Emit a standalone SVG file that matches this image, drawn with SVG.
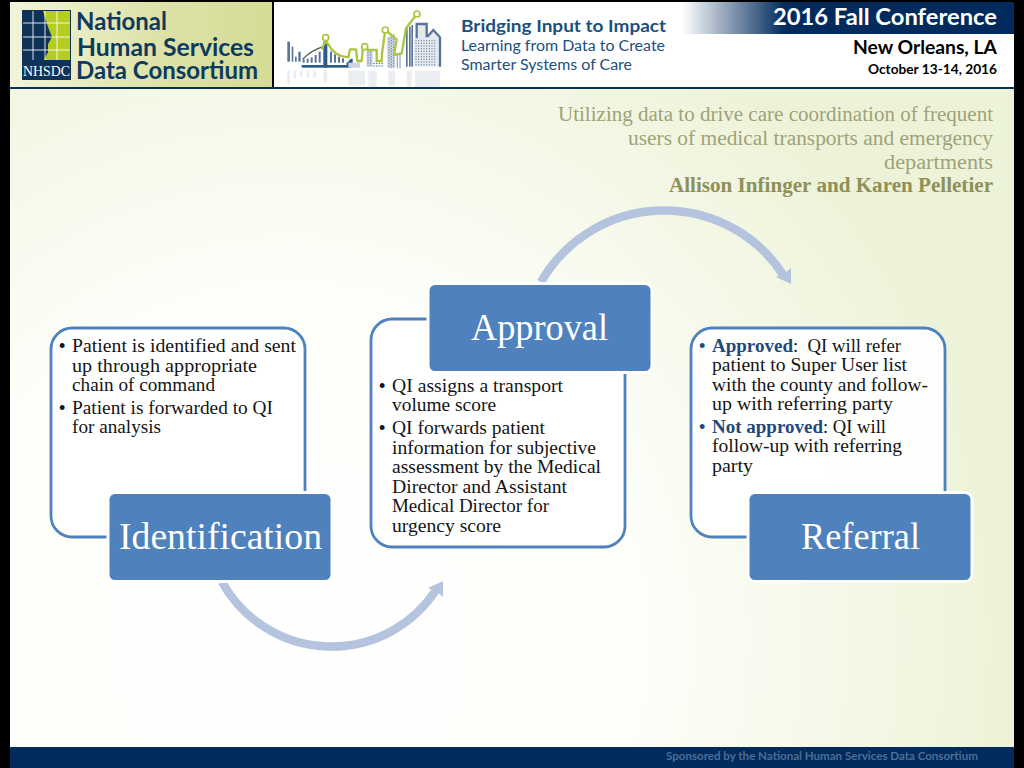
<svg xmlns="http://www.w3.org/2000/svg" width="1024" height="768" viewBox="0 0 1024 768">
<style>
.b{font-family:"Liberation Serif","Times New Roman",serif;font-size:18.5px;fill:#141414;transform:translate(0,1px)}
.blt{font-family:"Liberation Sans",Arial,sans-serif;font-size:18px;fill:#141414;transform:translate(0,1px)}
.bq{fill:#1F497D;font-weight:bold}
.t{font-family:"Liberation Serif","Times New Roman",serif;font-size:37px;fill:#fff;transform:translate(0,1px)}
.h{font-family:"Liberation Serif","Times New Roman",serif;font-size:20px;fill:#A0A278;transform:translate(0,.5px)}
.hd{font-family:Lato,"Open Sans",sans-serif}
.card{fill:#fff;fill-opacity:.92;stroke:#4F81BD;stroke-width:2.8}
.head{fill:#4F81BD;stroke:#fff;stroke-width:3}
.arc{fill:none;stroke:#B4C3DE;stroke-width:8.5}
.hdarrow{fill:#B4C3DE}
.n{fill:#0F3A5E;font-family:Lato,"Open Sans",sans-serif;font-weight:bold;font-size:25px}
.bar{fill:#5A7398}
.nv{fill:#2B5C90}
.pale{fill:#CBD4E0}
.dots{fill:none;stroke:#6F86A6;stroke-width:3;stroke-dasharray:4 4}
.lime{fill:none;stroke:#A9C63C;stroke-width:7;stroke-linejoin:round}
.pt{fill:#fff;stroke:#A9C63C;stroke-width:5}
</style>
<defs>
<radialGradient id="bg" gradientUnits="userSpaceOnUse" cx="290" cy="640" r="720">
<stop offset="0" stop-color="#fff"/><stop offset=".5" stop-color="#FDFEF9"/><stop offset="1" stop-color="#EDF3D8"/>
</radialGradient>
<linearGradient id="logo" x1="0" y1="0" x2="1" y2="0">
<stop offset="0" stop-color="#F1F4DA"/><stop offset=".55" stop-color="#DDE3A8"/><stop offset="1" stop-color="#D5DC96"/>
</linearGradient>
<linearGradient id="ban" gradientUnits="userSpaceOnUse" x1="682" y1="0" x2="785" y2="0">
<stop offset="0" stop-color="#002B5C" stop-opacity="0"/><stop offset="1" stop-color="#002B5C"/>
</linearGradient>
</defs>

<rect width="1024" height="768" fill="#000"/>
<rect x="10" y="2" width="1004" height="745" fill="url(#bg)"/>
<rect x="10" y="747" width="1004" height="21" fill="#002B5C"/>
<text class="hd" x="666" y="760" font-size="11.5" font-weight="bold" fill="#4D6E97" textLength="312" lengthAdjust="spacingAndGlyphs">Sponsored by the National Human Services Data Consortium</text>

<g id="header">
<rect x="10" y="2" width="1004" height="85" fill="#fff"/>
<rect x="10" y="87" width="1004" height="2" fill="#0B2F52"/>
<rect x="10" y="2" width="262" height="85" fill="url(#logo)"/>
<rect x="272" y="2" width="2" height="85" fill="#000"/>

<g id="logo-mark">
<rect x="22" y="10" width="49" height="70" fill="#0F3358"/>
<path d="M43,11H70V60H44L48,52L48,44L52,37L48,27Z" fill="#B5CC22"/>
<path d="M33,11V60M45,11V60M57,11V60M23,23H70M23,37H70M23,50H70" fill="none" stroke="#fff" stroke-width="1" opacity=".85"/>
<rect x="22.500" y="61" width="48" height="18" fill="#0F3358"/>
<text x="23" y="76" textLength="47" lengthAdjust="spacingAndGlyphs" font-family="Liberation Serif,serif" font-size="15" fill="#fff">NHSDC</text>
</g>
<text class="n" x="76" y="30" textLength="91" lengthAdjust="spacingAndGlyphs">National</text>
<text class="n" x="77" y="56" textLength="177" lengthAdjust="spacingAndGlyphs">Human Services</text>
<text class="n" x="76" y="79" textLength="182" lengthAdjust="spacingAndGlyphs">Data Consortium</text>

<g id="skyline" transform="translate(280,0) scale(.33333)">
<g opacity=".12">
<rect class="bar" x="22" y="212" width="8" height="40"/><rect class="bar" x="40" y="212" width="8" height="25"/><rect class="bar" x="60" y="212" width="8" height="20"/><rect class="bar" x="80" y="212" width="8" height="20"/><rect class="bar" x="100" y="212" width="8" height="22"/><rect class="bar" x="130" y="212" width="12" height="35"/><rect class="bar" x="205" y="212" width="50" height="45"/><rect class="bar" x="265" y="212" width="25" height="50"/><rect class="bar" x="325" y="212" width="20" height="45"/><rect class="bar" x="380" y="212" width="15" height="50"/><rect class="bar" x="405" y="212" width="75" height="50"/>
</g>
<g class="bar">
<rect x="22" y="125" width="8" height="60"/><rect x="35" y="140" width="5" height="45"/><rect x="45" y="170" width="5" height="15"/><rect x="55" y="155" width="7" height="30"/>
<rect x="68" y="178" width="6" height="10"/><rect x="80" y="176" width="6" height="12"/><rect x="92" y="172" width="6" height="16"/><rect x="104" y="165" width="6" height="23"/><rect x="116" y="155" width="6" height="33"/>
<rect x="150" y="155" width="6" height="33"/><rect x="162" y="163" width="6" height="25"/><rect x="174" y="170" width="6" height="18"/><rect x="186" y="175" width="6" height="13"/>
</g>
<path d="M68,178Q95,150 130,140" fill="none" stroke="#4A5A50" stroke-width="4"/>
<rect class="nv" x="65" y="195" width="150" height="8"/>
<rect class="nv" x="130" y="125" width="12" height="78"/>
<path class="nv" d="M200,190L212,176L218,176V195H200Z"/>
<rect class="pale" x="205" y="188" width="35" height="15"/>
<rect class="pale" x="260" y="150" width="18" height="50"/>
<path class="dots" d="M264,155V198M272,155V198"/>
<path class="dots" d="M280,190H312M280,198H312" style="stroke:#3A5580"/>
<path class="pale" d="M322,112L345,100V205H322Z"/>
<path class="dots" d="M327,115V203M334,112V203M341,108V203"/>
<g class="bar" opacity=".6"><rect x="350" y="160" width="4" height="45"/><rect x="358" y="160" width="4" height="45"/></g>
<rect class="bar" x="378" y="85" width="5" height="115"/><rect class="bar" x="387" y="80" width="5" height="120"/><rect class="bar" x="394" y="75" width="5" height="125"/>
<path d="M403,200V115H412V72H440V110L460,90L478,112V200Z" fill="#E4E9F0"/>
<path d="M410,115V72H440V112M442,110L460,90L480,112V200" fill="none" stroke="#5A7398" stroke-width="7"/>
<path class="dots" d="M408,120V198M416,120V198M424,120V198M432,120V198M440,120V198M448,120V198M456,120V198M464,120V198"/>
<path class="lime" d="M125,148L137,122L146,135Q165,170 205,172L210,148H228L232,183H245L248,150L254,140L264,150H290V183H305L306,160L316,90L350,118L342,165L365,160L378,85L411,42"/>
<circle class="pt" cx="137" cy="113" r="9"/>
<circle class="pt" cx="254" cy="140" r="9"/>
<circle class="pt" cx="316" cy="90" r="9"/>
<circle class="pt" cx="411" cy="42" r="9"/>
</g>

<text class="hd" x="461" y="32" font-size="17" font-weight="bold" fill="#1B4F7E" textLength="205" lengthAdjust="spacingAndGlyphs">Bridging Input to Impact</text>
<text class="hd" x="461" y="51" font-size="15.500" fill="#1B4F7E" textLength="204" lengthAdjust="spacingAndGlyphs">Learning from Data to Create</text>
<text class="hd" x="461" y="70" font-size="15.500" fill="#1B4F7E" textLength="171" lengthAdjust="spacingAndGlyphs">Smarter Systems of Care</text>
<rect x="682" y="2" width="103" height="32" fill="url(#ban)"/>
<rect x="785" y="2" width="229" height="32" fill="#002B5C"/>
<text class="hd" x="773" y="25" font-size="23" font-weight="bold" fill="#fff" textLength="224" lengthAdjust="spacingAndGlyphs">2016 Fall Conference</text>
<text class="hd" x="853" y="54" font-size="18" font-weight="bold" fill="#000" textLength="144" lengthAdjust="spacingAndGlyphs">New Orleans, LA</text>
<text class="hd" x="868" y="74" font-size="13" font-weight="bold" fill="#000" textLength="129" lengthAdjust="spacingAndGlyphs">October 13-14, 2016</text>
</g>

<g id="title">
<text class="h" x="558" y="120" textLength="435" lengthAdjust="spacingAndGlyphs">Utilizing data to drive care coordination of frequent</text>
<text class="h" x="628" y="144" textLength="365" lengthAdjust="spacingAndGlyphs">users of medical transports and emergency</text>
<text class="h" x="884" y="168" textLength="109" lengthAdjust="spacingAndGlyphs">departments</text>
<text class="h" x="669" y="191" textLength="324" lengthAdjust="spacingAndGlyphs" font-weight="bold" style="fill:#8F9059">Allison Infinger and Karen Pelletier</text>
</g>

<g id="connectors">
<path class="arc" d="M222,582A125,125 0 0 0 436,590"/>
<path class="hdarrow" d="M443,581L443,597L437,592L428,588Z"/>
<path class="arc" d="M541,282A142,142 0 0 1 784,276"/>
<path class="hdarrow" d="M791,284L776,277L785,273L791,268Z"/>
</g>

<g id="identification">
<rect class="card" x="51" y="328" width="254" height="209" rx="21"/>
<rect class="head" x="108" y="492.500" width="224" height="89" rx="7"/>
<text class="t" x="119" y="548" textLength="203" lengthAdjust="spacingAndGlyphs">Identification</text>
<text class="blt" x="59" y="351">•</text>
<text class="b" x="72" y="351" textLength="224" lengthAdjust="spacingAndGlyphs">Patient is identified and sent</text>
<text class="b" x="72" y="371" textLength="185" lengthAdjust="spacingAndGlyphs">up through appropriate</text>
<text class="b" x="72" y="390" textLength="143" lengthAdjust="spacingAndGlyphs">chain of command</text>
<text class="blt" x="59" y="413">•</text>
<text class="b" x="72" y="413" textLength="201" lengthAdjust="spacingAndGlyphs">Patient is forwarded to QI</text>
<text class="b" x="72" y="432" textLength="89" lengthAdjust="spacingAndGlyphs">for analysis</text>
</g>

<g id="approval">
<rect class="card" x="371" y="319" width="254" height="228" rx="21"/>
<rect class="head" x="428" y="283.500" width="224" height="89" rx="7"/>
<text class="t" x="471" y="339" textLength="137" lengthAdjust="spacingAndGlyphs">Approval</text>
<text class="blt" x="379" y="391">•</text>
<text class="b" x="392" y="391" textLength="171" lengthAdjust="spacingAndGlyphs">QI assigns a transport</text>
<text class="b" x="392" y="410" textLength="104" lengthAdjust="spacingAndGlyphs">volume score</text>
<text class="blt" x="379" y="433">•</text>
<text class="b" x="392" y="433" textLength="153" lengthAdjust="spacingAndGlyphs">QI forwards patient</text>
<text class="b" x="392" y="453" textLength="204" lengthAdjust="spacingAndGlyphs">information for subjective</text>
<text class="b" x="392" y="472" textLength="209" lengthAdjust="spacingAndGlyphs">assessment by the Medical</text>
<text class="b" x="392" y="492" textLength="175" lengthAdjust="spacingAndGlyphs">Director and Assistant</text>
<text class="b" x="392" y="511" textLength="157" lengthAdjust="spacingAndGlyphs">Medical Director for</text>
<text class="b" x="392" y="531" textLength="109" lengthAdjust="spacingAndGlyphs">urgency score</text>
</g>

<g id="referral">
<rect class="card" x="691" y="328" width="254" height="209" rx="21"/>
<rect class="head" x="748" y="492.500" width="224" height="89" rx="7"/>
<text class="t" x="801" y="548" textLength="119" lengthAdjust="spacingAndGlyphs">Referral</text>
<text class="blt" x="699" y="351" style="fill:#1F497D">•</text>
<text class="b bq" x="712" y="351" textLength="81" lengthAdjust="spacingAndGlyphs">Approved</text>
<text class="b" x="793" y="351" textLength="108" lengthAdjust="spacingAndGlyphs" xml:space="preserve">:  QI will refer</text>
<text class="b" x="712" y="370" textLength="195" lengthAdjust="spacingAndGlyphs">patient to Super User list</text>
<text class="b" x="712" y="390" textLength="216" lengthAdjust="spacingAndGlyphs">with the county and follow-</text>
<text class="b" x="712" y="409" textLength="181" lengthAdjust="spacingAndGlyphs">up with referring party</text>
<text class="blt" x="699" y="432" style="fill:#1F497D">•</text>
<text class="b bq" x="712" y="432" textLength="111" lengthAdjust="spacingAndGlyphs">Not approved</text>
<text class="b" x="823" y="432" textLength="63" lengthAdjust="spacingAndGlyphs">: QI will</text>
<text class="b" x="712" y="451" textLength="190" lengthAdjust="spacingAndGlyphs">follow-up with referring</text>
<text class="b" x="712" y="471" textLength="41" lengthAdjust="spacingAndGlyphs">party</text>
</g>
</svg>
